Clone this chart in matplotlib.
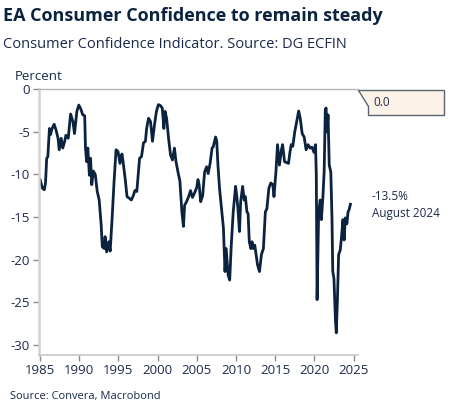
import matplotlib
matplotlib.use('Agg')
import matplotlib.pyplot as plt
from matplotlib.patches import Polygon

# EA consumer confidence, decimal years
years = [1985.0, 1985.3, 1985.55, 1985.7, 1985.85, 1986.0, 1986.2, 1986.35, 1986.5, 1986.8,
         1987.05, 1987.3, 1987.45, 1987.7, 1987.9, 1988.15, 1988.3, 1988.6, 1988.9, 1989.2,
         1989.4, 1989.7, 1989.95, 1990.2, 1990.45, 1990.7, 1990.8, 1990.95, 1991.1, 1991.3,
         1991.45, 1991.6, 1991.8, 1992.05, 1992.3, 1992.55, 1992.8, 1992.95, 1993.2, 1993.3,
         1993.5, 1993.75, 1993.95, 1994.2, 1994.45, 1994.7, 1994.95, 1995.2, 1995.45, 1995.6,
         1995.9, 1996.1, 1996.4, 1996.65, 1996.9, 1997.1, 1997.35, 1997.7, 1997.95, 1998.2,
         1998.45, 1998.6, 1998.85, 1999.1, 1999.35, 1999.6, 1999.85, 2000.1, 2000.35, 2000.6,
         2000.8, 2000.95, 2001.15, 2001.4, 2001.65, 2001.9, 2002.15, 2002.35, 2002.6, 2002.85,
         2003.1, 2003.3, 2003.45, 2003.7, 2004.0, 2004.2, 2004.45, 2004.75, 2005.0, 2005.15,
         2005.3, 2005.5, 2005.75, 2006.0, 2006.25, 2006.45, 2006.7, 2006.95, 2007.1, 2007.4,
         2007.55, 2007.7, 2007.9, 2008.15, 2008.4, 2008.6, 2008.75, 2009.0, 2009.2, 2009.4,
         2009.65, 2009.95, 2010.1, 2010.25, 2010.45, 2010.6, 2010.85, 2011.05, 2011.2, 2011.4,
         2011.55, 2011.7, 2011.9, 2012.05, 2012.2, 2012.4, 2012.75, 2013.0, 2013.25, 2013.5,
         2013.75, 2013.95, 2014.2, 2014.45, 2014.7, 2014.85, 2015.1, 2015.3, 2015.55, 2015.8,
         2015.95, 2016.2, 2016.45, 2016.7, 2016.9, 2017.05, 2017.25, 2017.5, 2017.75, 2018.0,
         2018.2, 2018.45, 2018.7, 2018.95, 2019.2, 2019.45, 2019.7, 2019.95, 2020.15, 2020.25,
         2020.35, 2020.55, 2020.75, 2020.9, 2021.1, 2021.25, 2021.4, 2021.5, 2021.6, 2021.75,
         2021.9, 2022.1, 2022.25, 2022.35, 2022.5, 2022.7, 2022.8, 2022.95, 2023.1, 2023.3,
         2023.45, 2023.65, 2023.8, 2023.95, 2024.15, 2024.3, 2024.45, 2024.6]
confidence = [-10.6, -11.6, -11.8, -11.0, -8.1, -7.9, -4.6, -5.3, -4.7, -4.1,
              -4.8, -5.75, -7.1, -5.75, -6.9, -6.1, -5.4, -5.75, -2.9, -3.8,
              -5.2, -2.6, -1.85, -2.3, -3.0, -3.1, -6.9, -8.5, -6.9, -10.1,
              -8.1, -11.2, -9.6, -10.0, -12.0, -13.0, -15.9, -18.5, -18.7, -17.3,
              -19.1, -17.9, -19.0, -15.1, -10.8, -7.1, -7.3, -8.7, -7.6, -8.5,
              -10.8, -12.6, -12.8, -13.0, -12.5, -11.9, -12.0, -8.1, -7.9, -6.3,
              -6.1, -4.6, -3.4, -3.8, -6.1, -4.2, -2.6, -1.8, -1.9, -2.2,
              -4.6, -2.6, -3.4, -5.75, -7.7, -8.3, -6.9, -8.5, -9.7, -10.8,
              -14.4, -16.1, -13.6, -13.2, -12.5, -11.9, -12.7, -12.1, -11.5, -10.6,
              -11.2, -13.2, -12.5, -9.7, -9.1, -9.9, -8.7, -6.9, -6.75, -5.6,
              -6.1, -8.9, -11.6, -14.0, -16.3, -21.4, -18.7, -21.8, -22.4, -18.3,
              -14.4, -11.4, -12.5, -14.0, -16.7, -13.2, -11.4, -13.0, -12.6, -14.4,
              -14.6, -17.9, -18.7, -17.9, -18.7, -18.3, -20.6, -21.4, -19.4, -18.7,
              -14.4, -14.0, -11.6, -11.0, -11.2, -12.6, -9.7, -6.5, -8.9, -7.1,
              -6.5, -8.5, -8.6, -8.7, -7.3, -6.5, -6.7, -5.0, -3.8, -2.55,
              -3.4, -5.2, -5.6, -7.1, -6.5, -6.9, -6.8, -7.4, -6.5, -10.1,
              -24.7, -14.4, -13.0, -15.3, -12.5, -9.7, -2.4, -2.2, -5.0, -3.0,
              -8.9, -9.7, -15.1, -21.4, -22.2, -27.3, -28.6, -24.5, -19.4, -18.9,
              -17.5, -15.3, -17.7, -15.1, -15.8, -14.4, -14.1, -13.5]

xticks = [1985, 1990, 1995, 2000, 2005, 2010, 2015, 2020, 2025]
yticks = [0, -5, -10, -15, -20, -25, -30]

navy = '#0c2340'
text_col = '#1b2a4a'
grey = '#b4b4b4'

plt.rcParams['font.family'] = ['Open Sans', 'DejaVu Sans']

W, H = 453, 417
fig = plt.figure(figsize=(W / 100, H / 100), dpi=100)

def fx(px):
    return px / W

def fy(py):
    return 1 - py / H

ax = fig.add_axes([fx(39), fy(355), fx(358) - fx(39), fy(89.3) - fy(355)])
ax.plot(years, confidence, color=navy, linewidth=2.0, solid_joinstyle='round')

ax.set_xlim(1984.87, 2025.57)
ax.set_ylim(-31.2, 0)
ax.set_xticks(xticks)
ax.set_yticks(yticks)
ax.set_xticklabels([str(t) for t in xticks])
ax.set_yticklabels([str(t) for t in yticks])

ax.spines['right'].set_visible(False)
ax.spines['top'].set_color(grey)
ax.spines['top'].set_linewidth(1.0)
ax.spines['left'].set_color('#d4d4d4')
ax.spines['left'].set_linewidth(1.8)
ax.spines['bottom'].set_color('#c8c8c8')
ax.spines['bottom'].set_linewidth(1.2)
ax.tick_params(axis='both', colors='#8c8c8c', labelcolor=text_col, labelsize=9.5,
               length=4.5, width=1.0)
ax.tick_params(axis='y', pad=2)
ax.tick_params(axis='x', pad=2)

# titles
fig.text(fx(3), fy(16), 'EA Consumer Confidence to remain steady', fontsize=13,
         fontweight='bold', color=navy, va='center', ha='left')
fig.text(fx(3), fy(44), 'Consumer Confidence Indicator. Source: DG ECFIN', fontsize=10.5,
         color=text_col, va='center', ha='left')
fig.text(fx(15), fy(77), 'Percent', fontsize=9.5, color=text_col, va='center', ha='left')
fig.text(fx(10), fy(397), 'Source: Convera, Macrobond', fontsize=8, color=text_col,
         va='center', ha='left')

# last value annotation
fig.text(fx(372), fy(197), '-13.5%', fontsize=8.5, color=text_col, va='center', ha='left')
fig.text(fx(372), fy(213), 'August 2024', fontsize=8.5, color=text_col, va='center', ha='left')

# callout box for the 0.0 line
pts = [(358, 89.5), (444, 89.5), (444, 115), (368, 115), (368, 106)]
callout = Polygon([(fx(a), fy(b)) for a, b in pts], closed=True, transform=fig.transFigure,
                  facecolor='#fcf2e8', edgecolor='#5a6470', linewidth=1.0)
fig.patches.append(callout)
fig.text(fx(373), fy(102), '0.0', fontsize=8.5, color=text_col, va='center', ha='left')

fig.savefig('out.png', dpi=100)
